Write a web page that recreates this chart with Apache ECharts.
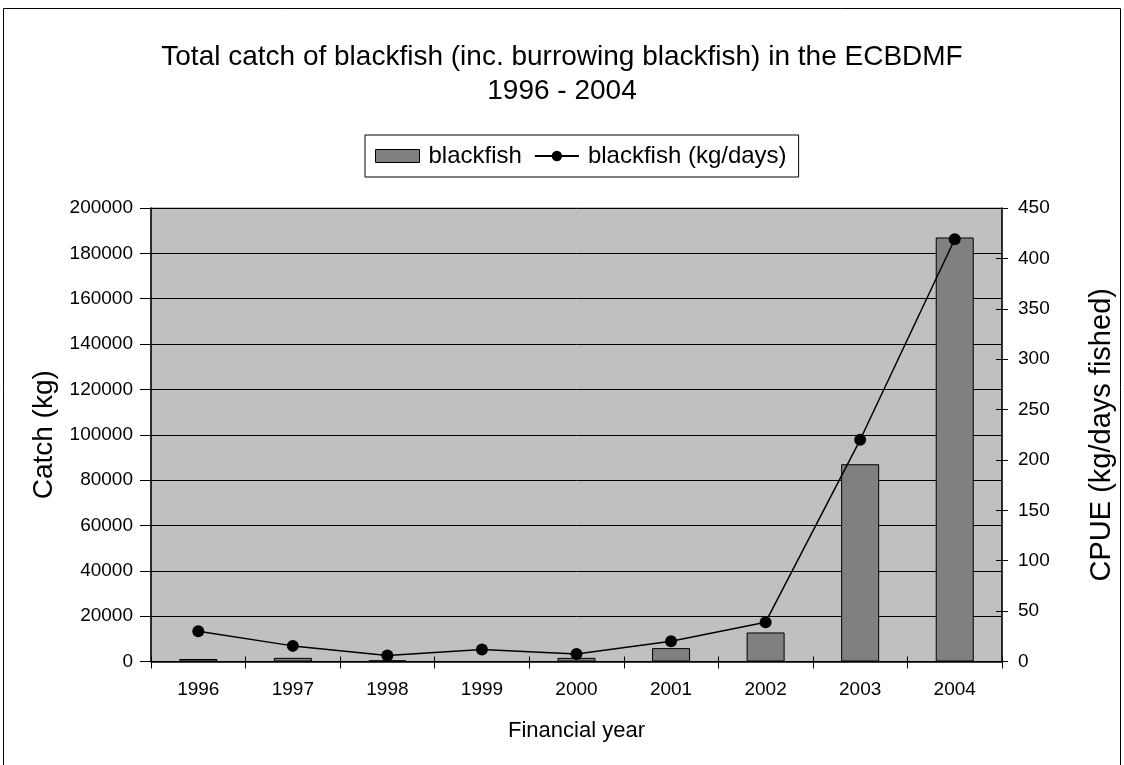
<!DOCTYPE html>
<html>
<head>
<meta charset="utf-8">
<script src="https://cdn.jsdelivr.net/npm/echarts@6/dist/echarts.min.js"></script>
<style>
  html, body { margin: 0; padding: 0; background: #fff; }
  #chart { width: 1124px; height: 765px; }
</style>
</head>
<body>
<div id="chart"></div>
<script>
// Financial years
const years = ['1996', '1997', '1998', '1999', '2000', '2001', '2002', '2003', '2004'];
// Total catch (kg)
const catchKg = [1100, 1600, 500, 0, 1600, 5900, 12800, 87000, 187000];
// CPUE (kg/days fished)
const cpue = [30, 15.5, 6, 12, 7.5, 20, 39, 220, 419];

const FONT = 'Liberation Sans, Arial, sans-serif';
const TICK_FONT = 19;
const chart = echarts.init(document.getElementById('chart'));

const plainNumber = v => String(v);

chart.setOption({
  backgroundColor: '#ffffff',
  animation: false,
  textStyle: { fontFamily: FONT, color: '#000' },
  graphic: [{
    type: 'rect',
    shape: { x: 3.5, y: 8.5, width: 1117, height: 800 },
    style: { fill: 'none', stroke: '#000', lineWidth: 1 },
    silent: true
  }],
  title: {
    text: 'Total catch of blackfish (inc. burrowing blackfish) in the ECBDMF\n1996 - 2004',
    left: 'center',
    top: 35,
    textStyle: { fontFamily: FONT, fontSize: 28, fontWeight: 'normal', color: '#000', lineHeight: 34 }
  },
  legend: {
    top: 135,
    left: 365,
    padding: [9, 12, 9, 10],
    borderColor: '#000',
    borderWidth: 1,
    itemGap: 12,
    itemWidth: 44,
    itemHeight: 13,
    textStyle: { fontFamily: FONT, fontSize: 24, color: '#000', padding: [0, 0, 0, 4] },
    data: [
      { name: 'blackfish', icon: 'rect', itemStyle: { color: '#808080', borderColor: '#000', borderWidth: 1 } },
      { name: 'blackfish (kg/days)' }
    ]
  },
  grid: {
    left: 151, right: 108, top: 208, bottom: 103.5,
    show: true,
    backgroundColor: '#c0c0c0',
    borderColor: '#808080',
    borderWidth: 1
  },
  xAxis: [{
    type: 'category',
    data: years,
    name: 'Financial year',
    nameLocation: 'middle',
    nameGap: 58,
    nameTextStyle: { fontFamily: FONT, fontSize: 22, color: '#000' },
    axisLine: { lineStyle: { color: '#000', width: 1.5 } },
    axisTick: { show: true, length: 7, lineStyle: { color: '#000' } },
    axisLabel: { fontFamily: FONT, fontSize: TICK_FONT, color: '#000', margin: 19 },
    splitLine: { show: false }
  }, {
    // inner half of the category ticks
    type: 'category',
    data: years,
    position: 'bottom',
    axisLine: { show: false },
    axisTick: { show: true, inside: true, length: 5, lineStyle: { color: '#000' } },
    axisLabel: { show: false },
    splitLine: { show: false }
  }],
  yAxis: [{
    type: 'value',
    min: 0, max: 200000, interval: 20000,
    name: 'Catch (kg)',
    nameLocation: 'middle',
    nameGap: 90,
    nameTextStyle: { fontFamily: FONT, fontSize: 28, color: '#000' },
    axisLine: { show: true, lineStyle: { color: '#000', width: 1.5 } },
    axisTick: { show: true, length: 11, lineStyle: { color: '#000' } },
    axisLabel: { fontFamily: FONT, fontSize: TICK_FONT, color: '#000', margin: 18, formatter: plainNumber },
    splitLine: { show: true, lineStyle: { color: '#000', width: 1 } }
  }, {
    type: 'value',
    min: 0, max: 450, interval: 50,
    position: 'right',
    name: 'CPUE (kg/days fished)',
    nameLocation: 'middle',
    nameGap: 85,
    nameTextStyle: { fontFamily: FONT, fontSize: 29, color: '#000' },
    axisLine: { show: true, lineStyle: { color: '#000', width: 1.5 } },
    axisTick: { show: true, length: 6, lineStyle: { color: '#000' } },
    axisLabel: { fontFamily: FONT, fontSize: TICK_FONT, color: '#000', margin: 16, formatter: plainNumber },
    splitLine: { show: false }
  }, {
    // inner half of the right-hand ticks
    type: 'value',
    min: 0, max: 450, interval: 50,
    position: 'right',
    axisLine: { show: false },
    axisTick: { show: true, inside: true, length: 6, lineStyle: { color: '#000' } },
    axisLabel: { show: false },
    splitLine: { show: false }
  }],
  series: [{
    name: 'blackfish',
    type: 'bar',
    data: catchKg,
    yAxisIndex: 0,
    barWidth: 38,
    itemStyle: { color: '#808080', borderColor: '#000', borderWidth: 1 }
  }, {
    name: 'blackfish (kg/days)',
    type: 'line',
    data: cpue,
    yAxisIndex: 1,
    symbol: 'circle',
    symbolSize: 12,
    itemStyle: { color: '#000' },
    lineStyle: { color: '#000', width: 1.5 }
  }]
});
</script>
</body>
</html>
